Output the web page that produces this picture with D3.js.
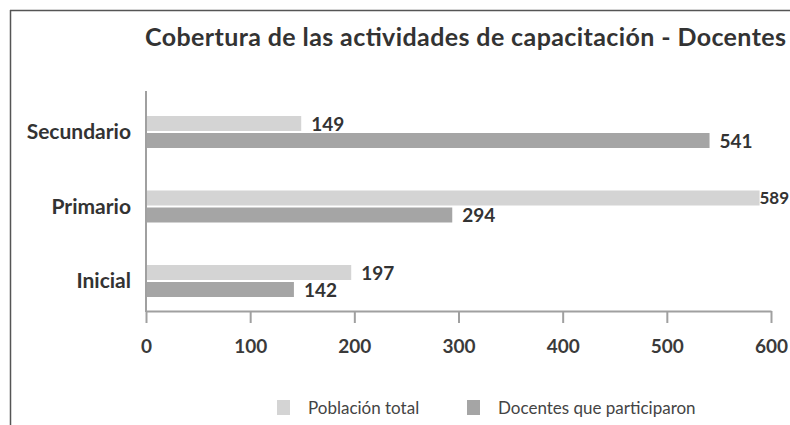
<!DOCTYPE html>
<html>
<head>
<meta charset="utf-8">
<script src="https://cdn.jsdelivr.net/npm/d3@7"></script>
<style>
  body { margin: 0; background: #fff; }
  text { font-family: Lato, "Open Sans", sans-serif; fill: #333; }
</style>
</head>
<body>
<svg width="790" height="425"></svg>
<script>
// data
var categories = ["Secundario", "Primario", "Inicial"];
var seriesNames = ["Población total", "Docentes que participaron"];
var poblacion = [149, 589, 197];
var docentes = [541, 294, 142];
var ticks = [0, 100, 200, 300, 400, 500, 600];
var colors = ["#d4d4d4", "#a5a5a5"];

var svg = d3.select("svg");

// frame (top and left line only)
svg.append("line").attr("x1", 10).attr("y1", 10.5).attr("x2", 790).attr("y2", 10.5)
  .style("stroke", "#555").style("stroke-width", 1.5);
svg.append("line").attr("x1", 10.5).attr("y1", 10).attr("x2", 10.5).attr("y2", 425)
  .style("stroke", "#555").style("stroke-width", 1.5);

// title, spread to the same width as the original
svg.append("text")
  .attr("x", 145).attr("y", 46)
  .style("font-size", "25px")
  .style("font-weight", "bold")
  .style("fill", "#333")
  .attr("textLength", 641)
  .attr("lengthAdjust", "spacing")
  .text("Cobertura de las actividades de capacitación - Docentes");

var xScale = d3.scaleLinear().domain([0, 600]).range([146, 771]);
var yScale = d3.scaleBand().domain(categories).range([94.75, 318.25]);

var barH = 15, gap = 2;

// x axis
var xAxis = svg.append("g")
  .attr("transform", "translate(0,311)")
  .call(d3.axisBottom(xScale).tickValues(ticks).tickSize(12).tickSizeOuter(0).tickPadding(17));
xAxis.select(".domain").style("stroke", "#a0a0a0").style("stroke-width", 2);
xAxis.selectAll(".tick line").style("stroke", "#a0a0a0").style("stroke-width", 2);
xAxis.selectAll(".tick text")
  .style("font-family", "Lato, 'Open Sans', sans-serif")
  .style("font-size", "19px").style("font-weight", "bold").style("fill", "#3a3a3a");

// y axis line
svg.append("line").attr("x1", 146).attr("y1", 91).attr("x2", 146).attr("y2", 312)
  .style("stroke", "#a0a0a0").style("stroke-width", 2);

// category labels
svg.append("g").selectAll("text")
  .data(categories)
  .enter().append("text")
  .attr("x", 131)
  .attr("y", function (d) { return yScale(d) + yScale.bandwidth() / 2; })
  .attr("dy", "0.35em")
  .attr("text-anchor", "end")
  .style("font-size", "21px")
  .style("font-weight", "bold")
  .text(function (d) { return d; });

// bars
var series = [poblacion, docentes];
series.forEach(function (vals, s) {
  var g = svg.append("g");
  var yOff = function (i) {
    var c = yScale(categories[i]) + yScale.bandwidth() / 2;
    return s === 0 ? c - gap / 2 - barH : c + gap / 2;
  };
  g.selectAll("rect")
    .data(vals)
    .enter().append("rect")
    .attr("x", xScale(0) + 1)
    .attr("y", function (d, i) { return yOff(i); })
    .attr("width", function (d) { return xScale(d) - xScale(0) - 1; })
    .attr("height", barH)
    .style("fill", colors[s]);
  g.selectAll("text")
    .data(vals)
    .enter().append("text")
    .attr("x", function (d) { return xScale(d) + 10; })
    .attr("y", function (d, i) { return yOff(i) + barH / 2; })
    .attr("dy", "0.38em")
    .style("font-size", "19px")
    .style("font-weight", "bold")
    .text(function (d) { return d; })
    .each(function (d) {
      // keep a label that would run past the right edge inside the picture
      var t = d3.select(this), size = 19;
      var w = this.getComputedTextLength();
      if (xScale(d) + 10 + w <= 789) return;
      while (789 - w < xScale(d) + 2 && size > 17) {
        size -= 1;
        t.style("font-size", size + "px");
        w = this.getComputedTextLength();
      }
      t.attr("x", 789 - w);
    });
});

// legend
var legendX = [277, 467];
seriesNames.forEach(function (name, i) {
  svg.append("rect")
    .attr("x", legendX[i]).attr("y", 400)
    .attr("width", 13).attr("height", 15)
    .style("fill", colors[i]);
  svg.append("text")
    .attr("x", legendX[i] + 31).attr("y", 408)
    .attr("dy", "0.35em")
    .style("font-size", "17px")
    .style("fill", "#444")
    .text(name);
});
</script>
</body>
</html>
